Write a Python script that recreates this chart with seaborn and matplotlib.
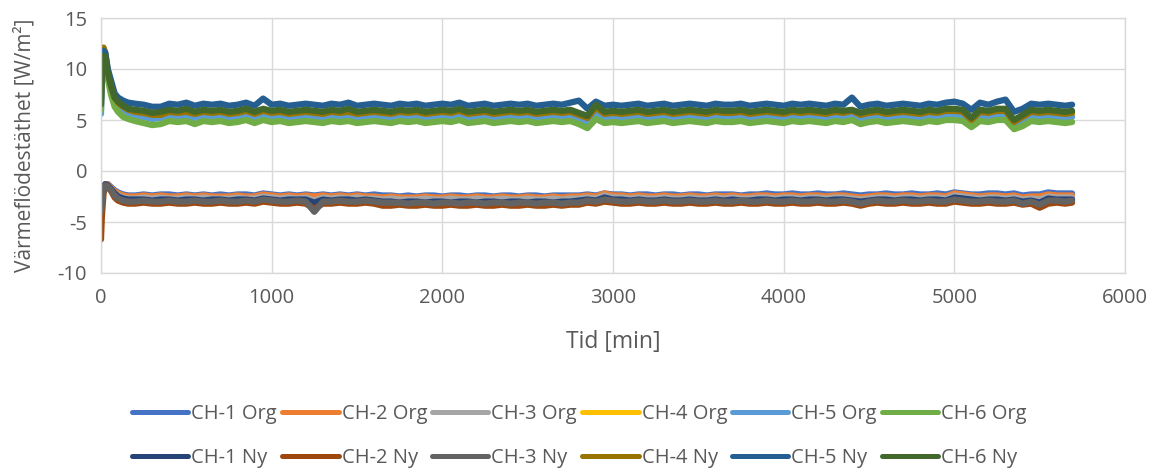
import numpy as np
import pandas as pd
import matplotlib
matplotlib.use("Agg")
import matplotlib.pyplot as plt
import seaborn as sns

# ---------------- data ----------------
time_min = [0, 5, 15, 25, 40, 60, 80, 100, 130, 160,
            200, 250, 300, 350, 400, 450, 500, 550, 600, 650,
            700, 750, 800, 850, 900, 950, 1000, 1050, 1100, 1150,
            1200, 1250, 1300, 1350, 1400, 1450, 1500, 1550, 1600, 1650,
            1700, 1750, 1800, 1850, 1900, 1950, 2000, 2050, 2100, 2150,
            2200, 2250, 2300, 2350, 2400, 2450, 2500, 2550, 2600, 2650,
            2700, 2750, 2800, 2850, 2900, 2950, 3000, 3050, 3100, 3150,
            3200, 3250, 3300, 3350, 3400, 3450, 3500, 3550, 3600, 3650,
            3700, 3750, 3800, 3850, 3900, 3950, 4000, 4050, 4100, 4150,
            4200, 4250, 4300, 4350, 4400, 4450, 4500, 4550, 4600, 4650,
            4700, 4750, 4800, 4850, 4900, 4950, 5000, 5050, 5100, 5150,
            5200, 5250, 5300, 5350, 5400, 5450, 5500, 5550, 5600, 5650,
            5690]

ch5_ny = [7.0, 10.5, 11.8, 11.6, 10.0, 8.8, 7.6, 7.2, 6.9, 6.7,
          6.6, 6.5, 6.3, 6.3, 6.6, 6.5, 6.7, 6.4, 6.6, 6.5,
          6.6, 6.4, 6.5, 6.7, 6.4, 7.1, 6.5, 6.6, 6.4, 6.5,
          6.6, 6.5, 6.4, 6.6, 6.5, 6.7, 6.4, 6.5, 6.6, 6.5,
          6.4, 6.6, 6.5, 6.6, 6.4, 6.5, 6.6, 6.5, 6.7, 6.4,
          6.5, 6.6, 6.4, 6.5, 6.6, 6.5, 6.6, 6.4, 6.5, 6.6,
          6.5, 6.7, 6.9, 6.1, 6.8, 6.4, 6.5, 6.4, 6.5, 6.6,
          6.4, 6.5, 6.6, 6.4, 6.5, 6.6, 6.5, 6.4, 6.6, 6.5,
          6.5, 6.6, 6.4, 6.5, 6.6, 6.5, 6.4, 6.6, 6.5, 6.6,
          6.5, 6.4, 6.6, 6.5, 7.2, 6.3, 6.5, 6.6, 6.4, 6.5,
          6.6, 6.5, 6.4, 6.6, 6.5, 6.7, 6.8, 6.6, 6.0, 6.7,
          6.5, 6.8, 7.0, 5.8, 6.1, 6.6, 6.5, 6.6, 6.5, 6.4,
          6.5]
ch6_ny = [6.5, 9.5, 11.3, 11.2, 9.6, 8.3, 7.2, 6.8, 6.4, 6.1,
          6.0, 5.9, 5.7, 5.8, 6.0, 5.9, 6.1, 5.8, 6.0, 5.9,
          6.0, 5.8, 5.9, 6.1, 5.8, 6.1, 5.9, 6.0, 5.8, 5.9,
          6.0, 5.9, 5.8, 6.0, 5.9, 6.1, 5.8, 5.9, 6.0, 5.9,
          5.8, 6.0, 5.9, 6.0, 5.8, 5.9, 6.0, 5.9, 6.1, 5.8,
          5.9, 6.0, 5.8, 5.9, 6.0, 5.9, 6.0, 5.8, 5.9, 6.0,
          5.9, 6.0, 5.7, 5.4, 6.5, 5.8, 5.9, 5.8, 5.9, 6.0,
          5.8, 5.9, 6.0, 5.8, 5.9, 6.0, 5.9, 5.8, 6.0, 5.9,
          5.9, 6.0, 5.8, 5.9, 6.0, 5.9, 5.8, 6.0, 5.9, 6.0,
          5.9, 5.8, 6.0, 5.9, 6.0, 5.7, 5.9, 6.0, 5.8, 5.9,
          6.0, 5.9, 5.8, 6.0, 5.9, 6.1, 6.1, 6.0, 5.2, 6.0,
          5.9, 6.1, 6.1, 5.0, 5.5, 6.0, 5.9, 6.0, 5.9, 5.8,
          5.9]
ch4_ny = [7.5, 11.0, 12.1, 11.6, 9.8, 8.3, 7.2, 6.7, 6.3, 6.0,
          5.8, 5.7, 5.5, 5.5, 5.8, 5.7, 5.8, 5.6, 5.8, 5.7,
          5.8, 5.6, 5.7, 5.9, 5.6, 5.9, 5.7, 5.8, 5.6, 5.7,
          5.8, 5.7, 5.6, 5.8, 5.7, 5.8, 5.6, 5.7, 5.8, 5.7,
          5.6, 5.8, 5.7, 5.8, 5.6, 5.7, 5.8, 5.7, 5.9, 5.6,
          5.7, 5.8, 5.6, 5.7, 5.8, 5.7, 5.8, 5.6, 5.7, 5.8,
          5.7, 5.8, 5.5, 5.2, 6.2, 5.6, 5.7, 5.6, 5.7, 5.8,
          5.6, 5.7, 5.8, 5.6, 5.7, 5.8, 5.7, 5.6, 5.8, 5.7,
          5.7, 5.8, 5.6, 5.7, 5.8, 5.7, 5.6, 5.8, 5.7, 5.8,
          5.7, 5.6, 5.8, 5.7, 5.9, 5.5, 5.7, 5.8, 5.6, 5.7,
          5.8, 5.7, 5.6, 5.8, 5.7, 5.9, 5.9, 5.8, 5.0, 5.8,
          5.7, 5.9, 5.9, 4.8, 5.3, 5.8, 5.7, 5.8, 5.7, 5.6,
          5.7]
ch4_org = [7.0, 10.8, 12.0, 11.4, 9.6, 8.1, 7.0, 6.5, 6.1, 5.8,
           5.6, 5.5, 5.3, 5.4, 5.6, 5.5, 5.6, 5.4, 5.6, 5.5,
           5.6, 5.4, 5.5, 5.7, 5.4, 5.7, 5.5, 5.6, 5.4, 5.5,
           5.6, 5.5, 5.4, 5.6, 5.5, 5.6, 5.4, 5.5, 5.6, 5.5,
           5.4, 5.6, 5.5, 5.6, 5.4, 5.5, 5.6, 5.5, 5.7, 5.4,
           5.5, 5.6, 5.4, 5.5, 5.6, 5.5, 5.6, 5.4, 5.5, 5.6,
           5.5, 5.6, 5.3, 5.0, 5.9, 5.4, 5.5, 5.4, 5.5, 5.6,
           5.4, 5.5, 5.6, 5.4, 5.5, 5.6, 5.5, 5.4, 5.6, 5.5,
           5.5, 5.6, 5.4, 5.5, 5.6, 5.5, 5.4, 5.6, 5.5, 5.6,
           5.5, 5.4, 5.6, 5.5, 5.7, 5.3, 5.5, 5.6, 5.4, 5.5,
           5.6, 5.5, 5.4, 5.6, 5.5, 5.7, 5.7, 5.6, 4.9, 5.6,
           5.5, 5.7, 5.7, 4.6, 5.1, 5.6, 5.5, 5.6, 5.5, 5.4,
           5.5]
ch5_org = [5.6, 9.0, 11.0, 10.9, 9.3, 7.8, 6.8, 6.2, 5.8, 5.6,
           5.4, 5.3, 5.1, 5.2, 5.4, 5.3, 5.4, 5.2, 5.4, 5.3,
           5.4, 5.2, 5.3, 5.5, 5.2, 5.5, 5.3, 5.4, 5.2, 5.3,
           5.4, 5.3, 5.2, 5.4, 5.3, 5.4, 5.2, 5.3, 5.4, 5.3,
           5.2, 5.4, 5.3, 5.4, 5.2, 5.3, 5.4, 5.3, 5.5, 5.2,
           5.3, 5.4, 5.2, 5.3, 5.4, 5.3, 5.4, 5.2, 5.3, 5.4,
           5.3, 5.4, 5.1, 4.8, 5.7, 5.2, 5.3, 5.2, 5.3, 5.4,
           5.2, 5.3, 5.4, 5.2, 5.3, 5.4, 5.3, 5.2, 5.4, 5.3,
           5.3, 5.4, 5.2, 5.3, 5.4, 5.3, 5.2, 5.4, 5.3, 5.4,
           5.3, 5.2, 5.4, 5.3, 5.5, 5.1, 5.3, 5.4, 5.2, 5.3,
           5.4, 5.3, 5.2, 5.4, 5.3, 5.5, 5.5, 5.4, 4.7, 5.4,
           5.3, 5.5, 5.5, 4.4, 4.9, 5.4, 5.3, 5.4, 5.3, 5.2,
           5.3]
ch6_org = [6.0, 9.5, 11.2, 10.7, 9.0, 7.4, 6.3, 5.8, 5.3, 5.1,
           4.9, 4.7, 4.5, 4.6, 4.9, 4.8, 4.9, 4.6, 4.9, 4.8,
           4.9, 4.7, 4.8, 5.0, 4.7, 5.0, 4.8, 4.9, 4.7, 4.8,
           4.9, 4.8, 4.7, 4.9, 4.8, 4.9, 4.7, 4.8, 4.9, 4.8,
           4.7, 4.9, 4.8, 4.9, 4.7, 4.8, 4.9, 4.8, 5.0, 4.7,
           4.8, 4.9, 4.7, 4.8, 4.9, 4.8, 4.9, 4.7, 4.8, 4.9,
           4.8, 4.9, 4.6, 4.2, 5.1, 4.7, 4.8, 4.7, 4.8, 4.9,
           4.7, 4.8, 4.9, 4.7, 4.8, 4.9, 4.8, 4.7, 4.9, 4.8,
           4.8, 4.9, 4.7, 4.8, 4.9, 4.8, 4.7, 4.9, 4.8, 4.9,
           4.8, 4.7, 4.9, 4.8, 5.0, 4.6, 4.8, 4.9, 4.7, 4.8,
           4.9, 4.8, 4.7, 4.9, 4.8, 5.0, 5.0, 4.9, 4.3, 4.9,
           4.8, 5.0, 5.0, 4.1, 4.4, 4.9, 4.8, 4.9, 4.8, 4.7,
           4.8]

ch1_org = [-3.5, -2.5, -1.6, -1.3, -1.3, -1.6, -1.9, -2.1, -2.3, -2.4,
           -2.4, -2.3, -2.4, -2.3, -2.3, -2.4, -2.3, -2.4, -2.3, -2.4,
           -2.3, -2.4, -2.3, -2.3, -2.4, -2.2, -2.3, -2.4, -2.3, -2.4,
           -2.3, -2.4, -2.3, -2.4, -2.3, -2.4, -2.3, -2.4, -2.3, -2.4,
           -2.4, -2.5, -2.4, -2.5, -2.4, -2.4, -2.5, -2.4, -2.4, -2.5,
           -2.4, -2.4, -2.5, -2.4, -2.4, -2.5, -2.4, -2.4, -2.5, -2.4,
           -2.4, -2.4, -2.4, -2.3, -2.4, -2.2, -2.3, -2.3, -2.4, -2.3,
           -2.3, -2.4, -2.3, -2.3, -2.4, -2.3, -2.3, -2.4, -2.3, -2.3,
           -2.3, -2.4, -2.3, -2.3, -2.2, -2.3, -2.3, -2.2, -2.3, -2.3,
           -2.2, -2.3, -2.3, -2.2, -2.3, -2.4, -2.3, -2.3, -2.2, -2.3,
           -2.3, -2.2, -2.3, -2.3, -2.2, -2.3, -2.1, -2.2, -2.3, -2.3,
           -2.2, -2.2, -2.3, -2.2, -2.4, -2.3, -2.3, -2.1, -2.2, -2.2,
           -2.2]
ch2_org = [-4.0, -2.8, -1.7, -1.3, -1.3, -1.7, -2.0, -2.2, -2.4, -2.5,
           -2.5, -2.4, -2.5, -2.4, -2.5, -2.5, -2.4, -2.5, -2.4, -2.5,
           -2.5, -2.5, -2.4, -2.5, -2.5, -2.3, -2.4, -2.5, -2.4, -2.5,
           -2.4, -2.5, -2.4, -2.5, -2.4, -2.5, -2.4, -2.5, -2.5, -2.6,
           -2.5, -2.6, -2.6, -2.6, -2.5, -2.6, -2.6, -2.5, -2.6, -2.6,
           -2.5, -2.6, -2.6, -2.5, -2.6, -2.6, -2.5, -2.6, -2.6, -2.5,
           -2.6, -2.5, -2.5, -2.4, -2.5, -2.2, -2.4, -2.4, -2.5, -2.4,
           -2.5, -2.5, -2.4, -2.5, -2.5, -2.4, -2.5, -2.5, -2.4, -2.5,
           -2.4, -2.5, -2.5, -2.4, -2.4, -2.5, -2.4, -2.4, -2.5, -2.4,
           -2.4, -2.5, -2.4, -2.4, -2.5, -2.6, -2.5, -2.4, -2.4, -2.5,
           -2.4, -2.4, -2.5, -2.4, -2.4, -2.5, -2.2, -2.3, -2.4, -2.5,
           -2.4, -2.4, -2.5, -2.4, -2.6, -2.5, -2.5, -2.3, -2.4, -2.4,
           -2.4]
ch3_org = [-4.2, -3.0, -1.8, -1.4, -1.4, -1.8, -2.2, -2.4, -2.6, -2.7,
           -2.7, -2.6, -2.7, -2.6, -2.7, -2.7, -2.6, -2.7, -2.6, -2.7,
           -2.7, -2.7, -2.6, -2.7, -2.7, -2.5, -2.6, -2.7, -2.6, -2.7,
           -2.6, -2.9, -2.6, -2.7, -2.6, -2.7, -2.6, -2.7, -2.7, -2.8,
           -2.7, -2.8, -2.8, -2.8, -2.7, -2.8, -2.8, -2.7, -2.8, -2.8,
           -2.7, -2.8, -2.8, -2.7, -2.8, -2.8, -2.7, -2.8, -2.8, -2.7,
           -2.8, -2.7, -2.7, -2.6, -2.7, -2.4, -2.6, -2.6, -2.7, -2.6,
           -2.7, -2.7, -2.6, -2.7, -2.7, -2.6, -2.7, -2.7, -2.6, -2.7,
           -2.6, -2.7, -2.7, -2.6, -2.6, -2.7, -2.6, -2.6, -2.7, -2.6,
           -2.6, -2.7, -2.6, -2.6, -2.7, -2.8, -2.7, -2.6, -2.6, -2.7,
           -2.6, -2.6, -2.7, -2.6, -2.6, -2.7, -2.4, -2.5, -2.6, -2.7,
           -2.6, -2.6, -2.7, -2.6, -2.8, -2.7, -2.8, -2.5, -2.6, -2.6,
           -2.6]
ch1_ny = [-4.0, -2.9, -1.7, -1.3, -1.4, -1.8, -2.2, -2.5, -2.7, -2.8,
          -2.8, -2.8, -2.9, -2.8, -2.8, -2.9, -2.8, -2.8, -2.9, -2.8,
          -2.8, -2.9, -2.8, -2.8, -2.9, -2.7, -2.8, -2.9, -2.8, -2.8,
          -2.8, -3.1, -2.8, -2.9, -2.8, -2.8, -2.9, -2.8, -2.9, -3.0,
          -3.0, -3.1, -3.0, -3.0, -3.1, -3.0, -3.0, -3.1, -3.0, -3.0,
          -3.1, -3.0, -3.0, -3.1, -3.0, -3.0, -3.1, -3.0, -3.0, -3.1,
          -3.0, -3.0, -2.9, -2.8, -2.9, -2.6, -2.8, -2.8, -2.9, -2.8,
          -2.9, -2.9, -2.8, -2.9, -2.9, -2.8, -2.9, -2.9, -2.8, -2.9,
          -2.8, -2.9, -2.9, -2.8, -2.8, -2.9, -2.8, -2.8, -2.9, -2.8,
          -2.8, -2.9, -2.8, -2.8, -2.9, -3.0, -2.9, -2.8, -2.8, -2.9,
          -2.8, -2.8, -2.9, -2.8, -2.8, -2.9, -2.6, -2.7, -2.8, -2.9,
          -2.8, -2.8, -2.9, -2.8, -3.0, -2.9, -3.1, -2.7, -2.8, -2.8,
          -2.8]
ch2_ny = [-6.7, -4.5, -2.2, -1.5, -1.5, -2.0, -2.6, -2.9, -3.1, -3.2,
          -3.2, -3.1, -3.2, -3.2, -3.1, -3.2, -3.2, -3.1, -3.2, -3.2,
          -3.1, -3.2, -3.2, -3.1, -3.2, -3.0, -3.1, -3.2, -3.2, -3.1,
          -3.2, -3.7, -3.2, -3.2, -3.1, -3.2, -3.2, -3.1, -3.2, -3.4,
          -3.4, -3.3, -3.4, -3.4, -3.3, -3.4, -3.4, -3.3, -3.4, -3.4,
          -3.3, -3.4, -3.4, -3.3, -3.4, -3.4, -3.3, -3.4, -3.4, -3.3,
          -3.4, -3.3, -3.3, -3.1, -3.2, -3.0, -3.1, -3.2, -3.2, -3.1,
          -3.2, -3.2, -3.1, -3.2, -3.2, -3.1, -3.2, -3.2, -3.1, -3.2,
          -3.2, -3.1, -3.2, -3.2, -3.1, -3.2, -3.2, -3.1, -3.2, -3.2,
          -3.1, -3.2, -3.2, -3.1, -3.2, -3.4, -3.2, -3.1, -3.2, -3.2,
          -3.1, -3.2, -3.2, -3.1, -3.2, -3.2, -3.0, -3.1, -3.2, -3.2,
          -3.1, -3.2, -3.2, -3.1, -3.3, -3.2, -3.6, -3.2, -3.1, -3.2,
          -3.1]
ch3_ny = [-4.0, -3.0, -1.8, -1.4, -1.5, -1.9, -2.4, -2.7, -2.9, -3.0,
          -3.0, -2.9, -3.0, -3.0, -2.9, -3.0, -3.0, -2.9, -3.0, -3.0,
          -2.9, -3.0, -3.0, -2.9, -3.0, -2.8, -2.9, -3.0, -3.0, -2.9,
          -3.0, -4.0, -3.0, -3.0, -2.9, -3.0, -3.0, -2.9, -3.0, -3.1,
          -3.1, -3.1, -3.2, -3.1, -3.1, -3.2, -3.1, -3.1, -3.2, -3.1,
          -3.1, -3.2, -3.1, -3.1, -3.2, -3.1, -3.1, -3.2, -3.1, -3.1,
          -3.2, -3.1, -3.1, -2.9, -3.0, -2.8, -2.9, -3.0, -3.0, -2.9,
          -3.0, -3.0, -2.9, -3.0, -3.0, -2.9, -3.0, -3.0, -2.9, -3.0,
          -3.0, -2.9, -3.0, -3.0, -2.9, -3.0, -3.0, -2.9, -3.0, -3.0,
          -2.9, -3.0, -3.0, -2.9, -3.0, -3.2, -3.0, -2.9, -3.0, -3.0,
          -2.9, -3.0, -3.0, -2.9, -3.0, -3.0, -2.8, -2.9, -3.0, -3.0,
          -2.9, -3.0, -3.0, -2.9, -3.2, -3.0, -3.3, -2.9, -2.9, -3.0,
          -2.9]

series_names = ["CH-1 Org", "CH-2 Org", "CH-3 Org", "CH-4 Org", "CH-5 Org", "CH-6 Org",
                "CH-1 Ny", "CH-2 Ny", "CH-3 Ny", "CH-4 Ny", "CH-5 Ny", "CH-6 Ny"]
series_values = [ch1_org, ch2_org, ch3_org, ch4_org, ch5_org, ch6_org,
                 ch1_ny, ch2_ny, ch3_ny, ch4_ny, ch5_ny, ch6_ny]
series_colors = ["#4472C4", "#ED7D31", "#A5A5A5", "#FFC000", "#5B9BD5", "#70AD47",
                 "#264478", "#9E480E", "#636363", "#997300", "#255E91", "#43682B"]

x_label = "Tid [min]"
y_label = "Värmeflödestäthet [W/m²]"
x_ticks = [0, 1000, 2000, 3000, 4000, 5000, 6000]
y_ticks = [-10, -5, 0, 5, 10, 15]

# ---------------- figure ----------------
sns.set_style("white")
plt.rcParams["font.family"] = ["Open Sans", "DejaVu Sans"]
plt.rcParams["axes.unicode_minus"] = False

frames = []
for name, vals in zip(series_names, series_values):
    assert len(vals) == len(time_min), (name, len(vals), len(time_min))
    frames.append(pd.DataFrame({"t": time_min, "v": vals, "serie": name}))
df = pd.concat(frames, ignore_index=True)

fig = plt.figure(figsize=(11.59, 4.76), dpi=100)
ax = fig.add_axes([101 / 1159, 1 - 273 / 476, (1125 - 101) / 1159, (273 - 18) / 476])

sns.lineplot(data=df, x="t", y="v", hue="serie", hue_order=series_names,
             palette=dict(zip(series_names, series_colors)), linewidth=4.5,
             errorbar=None, sort=False, estimator=None, ax=ax, legend=False,
             solid_joinstyle="round", solid_capstyle="round")

ax.set_xlim(0, 6000)
ax.set_ylim(-10, 15)
ax.set_xticks(x_ticks)
ax.set_yticks(y_ticks)
ax.grid(True, color="#D9D9D9", linewidth=1.0)
ax.set_axisbelow(True)
for s in ax.spines.values():
    s.set_color("#D9D9D9")
    s.set_linewidth(1.0)
ax.tick_params(axis="both", length=0, labelsize=14.5, colors="#595959")
ax.tick_params(axis="x", pad=11)
ax.tick_params(axis="y", pad=10)

ax.set_xlabel(x_label, fontsize=16.5, color="#595959")
ax.set_ylabel(y_label, fontsize=15, color="#595959")
ax.xaxis.set_label_coords(0.5, -0.225)
ax.yaxis.set_label_coords(-0.064, 0.5)

# legend: column-major order so rows read Org / Ny
handles = [plt.Line2D([], [], color=c, linewidth=3.6, solid_capstyle="round") for c in series_colors]
order = []
for i in range(6):
    order += [i, i + 6]
leg = fig.legend([handles[i] for i in order], [series_names[i] for i in order],
                 ncol=6, loc="center", bbox_to_anchor=(0.5, 1 - 436 / 476),
                 frameon=False, handlelength=2.8, handletextpad=0.15, columnspacing=0.25,
                 labelspacing=1.2, prop={"size": 14.5})
for t in leg.get_texts():
    t.set_color("#595959")

fig.savefig("out.png", dpi=100)
